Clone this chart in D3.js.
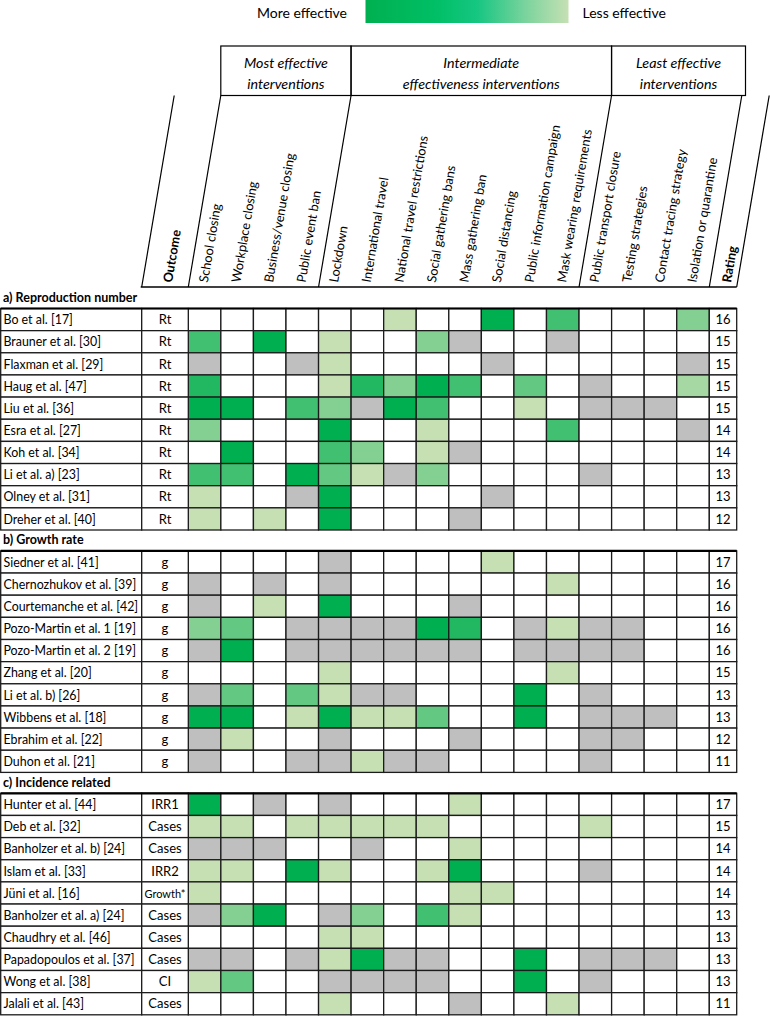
<!DOCTYPE html>
<html>
<head>
<script src="https://d3js.org/d3.v7.min.js"></script>
<style>
  body { margin: 0; background: #fff; }
  svg text { font-family: Lato, "Open Sans", sans-serif; fill: #000; }
  .grid { stroke: #1c1c1c; stroke-width: 1.3; }
  .hdr { fill: none; stroke: #000; stroke-width: 1.2; }
</style>
</head>
<body>
<svg id="chart" width="770" height="1016"></svg>
<script>
// columns
const interventions = ["School closing", "Workplace closing", "Business/venue closing", "Public event ban",
  "Lockdown", "International travel", "National travel restrictions", "Social gathering bans",
  "Mass gathering ban", "Social distancing", "Public information campaign", "Mask wearing requirements",
  "Public transport closure", "Testing strategies", "Contact tracing strategy", "Isolation or quarantine"];

const groupNames = [["Most effective", "interventions"], ["Intermediate", "effectiveness interventions"], ["Least effective", "interventions"]];
const groupFirst = ["School closing", "Lockdown", "Public transport closure"];
const groupLast = ["Public event ban", "Mask wearing requirements", "Isolation or quarantine"];

const sectionTitles = ["a) Reproduction number", "b) Growth rate", "c) Incidence related"];

// effect codes: "." not studied, "x" no significant effect (grey), 0 = most effective ... 6 = least effective
const studiesRt = ["Bo et al. [17]", "Brauner et al. [30]", "Flaxman et al. [29]", "Haug et al. [47]", "Liu et al. [36]",
  "Esra et al. [27]", "Koh et al. [34]", "Li et al. a) [23]", "Olney et al. [31]", "Dreher et al. [40]"];
const outcomesRt = ["Rt", "Rt", "Rt", "Rt", "Rt", "Rt", "Rt", "Rt", "Rt", "Rt"];
const ratingsRt = [16, 15, 15, 15, 15, 14, 14, 13, 13, 12];
const effectsRt = [
  "......6..0.2...4",
  "2.0.6..4x..x....",
  "x..x6....x.....x",
  "1...61402.3.x..5",
  "00.24x02..6.xxx.",
  "4...0..6...2...x",
  ".0..24.6x.......",
  "22.036x4....x...",
  "6..x0....x......",
  "6.6.0...x......."];

const studiesG = ["Siedner et al. [41]", "Chernozhukov et al. [39]", "Courtemanche et al. [42]", "Pozo-Martin et al. 1 [19]",
  "Pozo-Martin et al. 2 [19]", "Zhang et al. [20]", "Li et al. b) [26]", "Wibbens et al. [18]", "Ebrahim et al. [22]", "Duhon et al. [21]"];
const outcomesG = ["g", "g", "g", "g", "g", "g", "g", "g", "g", "g"];
const ratingsG = [17, 16, 16, 16, 16, 15, 13, 13, 12, 11];
const effectsG = [
  "....x....6......",
  "x.x.x......6....",
  "x.6.0...x.......",
  "43.xxxx01.x6xx..",
  "x0.xxxxxx.xxxx..",
  "....6......6....",
  "x3.36xx...0.x...",
  "00.60663..0.xxx.",
  "x6..x...x...xx..",
  "x..xx6xx....x..."];

const studiesInc = ["Hunter et al. [44]", "Deb et al. [32]", "Banholzer et al. b) [24]", "Islam et al. [33]", "Jüni et al. [16]",
  "Banholzer et al. a) [24]", "Chaudhry et al. [46]", "Papadopoulos et al. [37]", "Wong et al. [38]", "Jalali et al. [43]"];
const outcomesInc = ["IRR1", "Cases", "Cases", "IRR2", "Growth*", "Cases", "Cases", "Cases", "CI", "Cases"];
const ratingsInc = [17, 15, 14, 14, 14, 13, 13, 13, 13, 11];
const effectsInc = [
  "0.x.x...6.......",
  "66.66666....6...",
  "xxx..x..6.......",
  "66.06..60...x...",
  "6.......66......",
  "x40.x4.26.......",
  "....66..........",
  "xx.x60xx..0.xxx.",
  "63..xxxx..0.x...",
  "....6...x..6...."];

const sections = [
  {title: sectionTitles[0], studies: studiesRt, outcomes: outcomesRt, ratings: ratingsRt, effects: effectsRt},
  {title: sectionTitles[1], studies: studiesG, outcomes: outcomesG, ratings: ratingsG, effects: effectsG},
  {title: sectionTitles[2], studies: studiesInc, outcomes: outcomesInc, ratings: ratingsInc, effects: effectsInc}
];

const svg = d3.select("#chart");
const x = d3.scaleBand().domain(interventions).range([188.3, 709.3]);
const bw = x.bandwidth();
const nameX = [0.7, 141.7], outX = [141.7, 188.3], rateX = [709.3, 736.7];
const slant = 32.5, topY = 95.5, botY = 287;
const ang = -Math.atan2(botY - topY, slant) * 180 / Math.PI;

const shade = d3.scaleLinear().domain([0, 6]).range(["#00b050", "#c6e0b4"]);
const fillFor = c => c === "." ? "#fff" : c === "x" ? "#bfbfbf" : shade(+c);

// legend
const grad = svg.append("defs").append("linearGradient").attr("id", "eff");
grad.selectAll("stop")
    .data([[0, "#00b050"], [0.35, "#00bf66"], [0.55, "#16c682"], [0.8, "#7fd49e"], [1, "#c6e0b4"]])
    .join("stop").attr("offset", d => d[0]).attr("stop-color", d => d[1]);
svg.append("rect").attr("x", 365.5).attr("y", 0).attr("width", 203).attr("height", 23).attr("fill", "url(#eff)");
svg.append("text").attr("x", 347).attr("y", 18).attr("text-anchor", "end").style("font-size", "14px").text("More effective");
svg.append("text").attr("x", 582.5).attr("y", 18).style("font-size", "14px").text("Less effective");

// group boxes
const grp = svg.selectAll("g.grp").data(groupNames).join("g").attr("class", "grp");
grp.append("rect").attr("class", "hdr")
    .attr("x", (d, i) => x(groupFirst[i]) + slant)
    .attr("y", 46)
    .attr("width", (d, i) => (i === 2 ? 745.5 : x(groupLast[i]) + bw + slant) - (x(groupFirst[i]) + slant))
    .attr("height", topY - 46);
grp.append("text")
    .attr("x", (d, i) => (x(groupFirst[i]) + slant + (i === 2 ? 745.5 : x(groupLast[i]) + bw + slant)) / 2)
    .attr("text-anchor", "middle")
    .style("font-size", "14.3px").style("font-style", "italic")
    .selectAll("tspan").data(d => d).join("tspan")
    .attr("x", function () { return d3.select(this.parentNode).attr("x"); })
    .attr("y", (d, j) => 68 + j * 20.5)
    .text(d => d);

// slanted header lines
const slantBottoms = [nameX[1], outX[1], x("Lockdown"), x("Public transport closure"), rateX[0], rateX[1]];
svg.selectAll("line.sl").data(slantBottoms).join("line").attr("class", "hdr")
    .attr("x1", d => d).attr("y1", botY).attr("x2", d => d + slant).attr("y2", topY);
svg.append("line").attr("class", "hdr").style("stroke-width", 1.6)
    .attr("x1", nameX[1] - 1).attr("x2", rateX[1]).attr("y1", botY).attr("y2", botY);

// column labels
svg.selectAll("text.col").data(interventions).join("text")
    .attr("transform", d => `translate(${x(d) + 19.5},${botY - 4}) rotate(${ang})`)
    .style("font-size", "12.8px").text(d => d);
svg.append("text").attr("transform", `translate(172,${botY - 4}) rotate(${ang})`)
    .style("font-size", "12.8px").style("font-weight", "bold").text("Outcome");
svg.append("text").attr("transform", `translate(731,${botY - 4}) rotate(${ang})`)
    .style("font-size", "12.8px").style("font-weight", "bold").text("Rating");

// tables
const rowH = 22.15;
sections.forEach((s, k) => {
  const top = 308.5 + k * 242.4;
  const y = d3.scaleBand().domain(d3.range(s.studies.length)).range([top, top + s.studies.length * rowH]);
  const g = svg.append("g");
  g.append("text").attr("x", 3).attr("y", top - 6.5)
      .style("font-size", "12.5px").style("font-weight", "bold").text(s.title);

  const rows = g.selectAll("g.row").data(s.studies).join("g").attr("class", "row")
      .attr("transform", (d, i) => `translate(0,${y(i)})`);

  rows.selectAll("rect.cell")
      .data((d, i) => interventions.map((c, j) => ({col: c, code: s.effects[i][j]})))
      .join("rect").attr("class", "grid")
      .attr("x", d => x(d.col)).attr("y", 0).attr("width", bw).attr("height", y.bandwidth())
      .attr("fill", d => fillFor(d.code));

  [nameX, outX, rateX].forEach(r => {
    rows.append("rect").attr("class", "grid").attr("fill", "#fff")
        .attr("x", r[0]).attr("y", 0).attr("width", r[1] - r[0]).attr("height", y.bandwidth());
  });

  rows.append("text").attr("x", 3.5).attr("y", y.bandwidth() / 2 + 4.7)
      .style("font-size", "12.4px").text(d => d);
  rows.append("text").attr("x", (outX[0] + outX[1]) / 2).attr("y", y.bandwidth() / 2 + 4.7)
      .attr("text-anchor", "middle")
      .style("font-size", (d, i) => s.outcomes[i].length > 5 ? "11px" : "13px")
      .text((d, i) => s.outcomes[i]);
  rows.append("text").attr("x", (rateX[0] + rateX[1]) / 2).attr("y", y.bandwidth() / 2 + 4.7)
      .attr("text-anchor", "middle").style("font-size", "13px")
      .text((d, i) => s.ratings[i]);

  g.append("line").attr("x1", nameX[0]).attr("x2", rateX[1]).attr("y1", top).attr("y2", top)
      .attr("stroke", "#000").attr("stroke-width", 2.2);
});
</script>
</body>
</html>
